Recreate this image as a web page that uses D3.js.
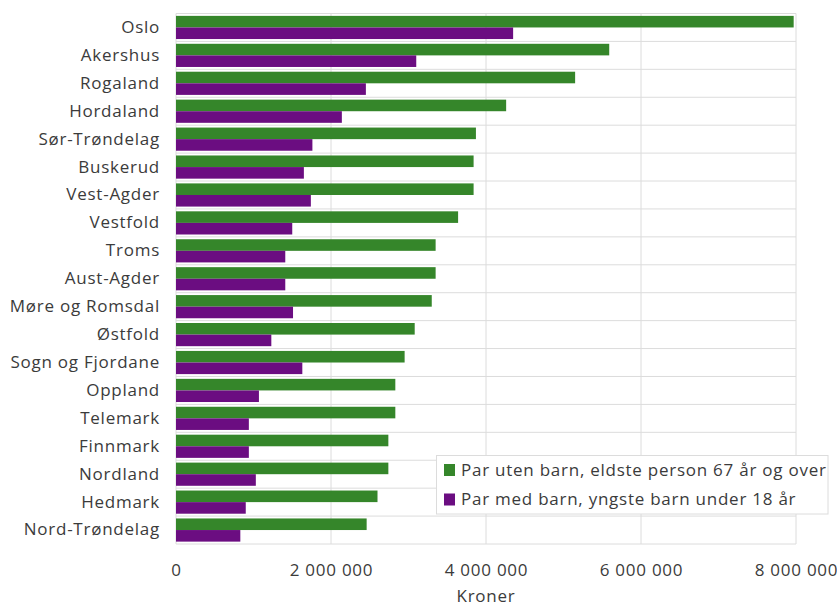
<!DOCTYPE html>
<html>
<head>
<meta charset="utf-8">
<script src="https://cdn.jsdelivr.net/npm/d3@7"></script>
<style>
  html, body { margin: 0; padding: 0; background: #fff; }
  svg { display: block; font-family: "Open Sans", sans-serif; }
  svg text { letter-spacing: 0.75px; }
</style>
</head>
<body>
<svg id="chart" width="837" height="606"></svg>
<script>
const categories = ["Oslo","Akershus","Rogaland","Hordaland","Sør-Trøndelag","Buskerud","Vest-Agder","Vestfold","Troms","Aust-Agder","Møre og Romsdal","Østfold","Sogn og Fjordane","Oppland","Telemark","Finnmark","Nordland","Hedmark","Nord-Trøndelag"];
const seriesNames = ["Par uten barn, eldste person 67 år og over","Par med barn, yngste barn under 18 år"];
const parUtenBarn67 = [7970000,5590000,5150000,4260000,3870000,3840000,3840000,3640000,3350000,3350000,3300000,3080000,2950000,2830000,2830000,2740000,2740000,2600000,2460000];
const parMedBarn18 = [4350000,3100000,2450000,2140000,1760000,1650000,1740000,1500000,1410000,1410000,1510000,1230000,1630000,1070000,940000,940000,1030000,900000,830000];
const xTicks = [0,2000000,4000000,6000000,8000000];
const xLabel = "Kroner";
const colors = ["#35862a","#6b0d81"];

const svg = d3.select("#chart");
const pLeft = 176, pRight = 796, pTop = 13.5, pBottom = 544;
const fs = 17;
const x = d3.scaleLinear().domain([0,8000000]).range([pLeft,pRight]);
const y0 = d3.scaleBand().domain(categories).range([pTop,pBottom]).padding(0);
const y1 = d3.scaleBand().domain(seriesNames)
  .range([y0.bandwidth()*0.085, y0.bandwidth()*0.915]).padding(0);
const fmt = v => d3.format(",")(v).replace(/,/g," ");
const grid = "#dcdcdc";
const textColor = "#3b3b3b";

// vertical gridlines
svg.append("g").selectAll("line").data(xTicks).join("line")
  .attr("x1", d => x(d)).attr("x2", d => x(d))
  .attr("y1", pTop).attr("y2", pBottom)
  .attr("stroke", grid).attr("stroke-width", 1);
// horizontal gridlines at band boundaries
const bounds = categories.map(c => y0(c)).concat([pBottom]);
svg.append("g").selectAll("line").data(bounds).join("line")
  .attr("x1", pLeft).attr("x2", pRight)
  .attr("y1", d => d).attr("y2", d => d)
  .attr("stroke", grid).attr("stroke-width", 1);

// bars
const rows = categories.map((c,i) => ({cat:c, vals:[parUtenBarn67[i], parMedBarn18[i]]}));
const g = svg.append("g").selectAll("g").data(rows).join("g")
  .attr("transform", d => `translate(0,${y0(d.cat)})`);
g.selectAll("rect").data(d => d.vals.map((v,j) => ({v, s: seriesNames[j], j})))
  .join("rect")
  .attr("x", x(0))
  .attr("y", d => y1(d.s))
  .attr("width", d => x(d.v) - x(0))
  .attr("height", y1.bandwidth())
  .attr("fill", d => colors[d.j]);

// category labels
const yAxis = d3.axisLeft(y0).tickSize(0).tickPadding(0);
const ya = svg.append("g").attr("transform", `translate(160,0)`).call(yAxis);
ya.select(".domain").remove();
ya.selectAll("text").attr("font-size", fs).attr("fill", textColor)
  .attr("font-family", "Open Sans, sans-serif");

// x axis
const xAxis = d3.axisBottom(x).tickValues(xTicks).tickFormat(fmt).tickSize(0).tickPadding(0);
const xa = svg.append("g").attr("transform", `translate(0,564)`).call(xAxis);
xa.select(".domain").remove();
xa.selectAll("text").attr("font-size", fs).attr("fill", textColor)
  .attr("font-family", "Open Sans, sans-serif");

svg.append("text").attr("x", (pLeft+pRight)/2).attr("y", 602)
  .attr("text-anchor","middle").attr("font-size", fs).attr("fill", textColor)
  .text(xLabel);

// legend
const lg = svg.append("g");
lg.append("rect").attr("x", 436.5).attr("y", 455.5).attr("width", 391.5).attr("height", 58.5)
  .attr("fill", "#fff").attr("stroke", "#dcdcdc").attr("stroke-width", 1);
const items = lg.selectAll("g.item").data(seriesNames).join("g")
  .attr("class","item")
  .attr("transform", (d,i) => `translate(444,${470 + i*29.5})`);
items.append("rect").attr("x", 0).attr("y", -6).attr("width", 11).attr("height", 12)
  .attr("fill", (d,i) => colors[i]);
items.append("text").attr("x", 17).attr("y", 0).attr("dy", "0.35em")
  .attr("font-size", fs).attr("fill", textColor).text(d => d);
</script>
</body>
</html>
